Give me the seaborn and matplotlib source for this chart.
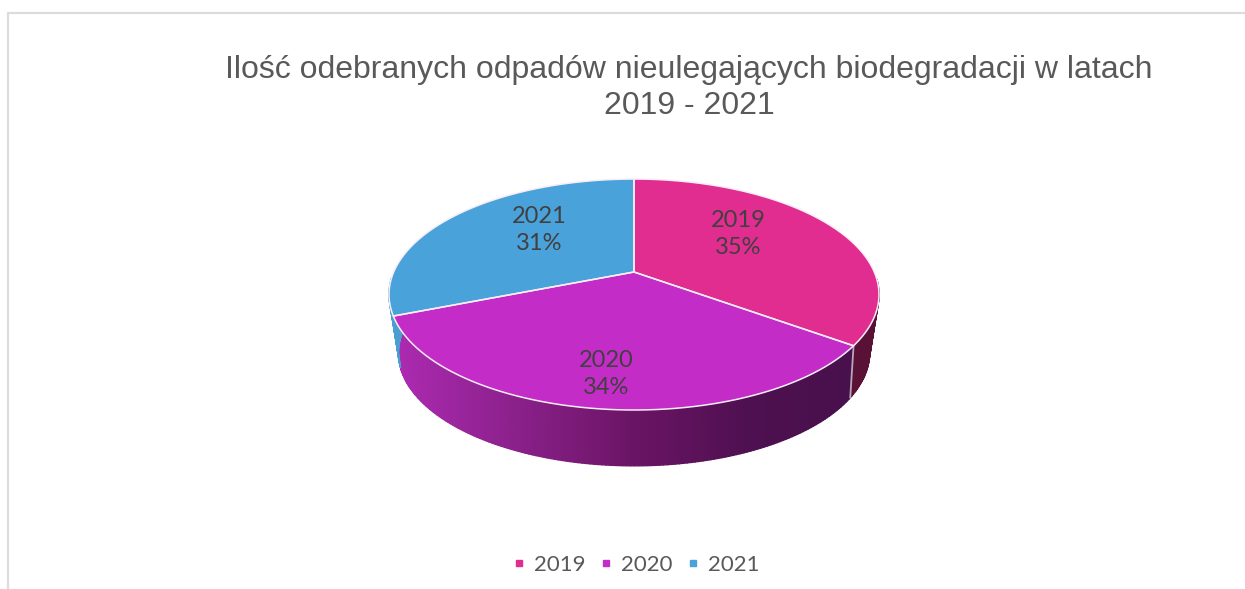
import numpy as np
import matplotlib
matplotlib.use("Agg")
import matplotlib.pyplot as plt
from matplotlib.lines import Line2D
import seaborn as sns

years = ["2019", "2020", "2021"]
values = [35, 34, 31]
title = "Ilość odebranych odpadów nieulegających biodegradacji w latach\n2019 - 2021"

sns.set_theme(style="white")
palette = sns.color_palette(["#e02d8f", "#c42cc8", "#4aa2da"])

# label centres in pixels
label_xy = [(738, 234), (606, 374), (539, 230)]

fig = plt.figure(figsize=(12.45, 5.89), dpi=100)
ax = fig.add_axes([0, 0, 1, 1])
ax.set_xlim(0, 1245)
ax.set_ylim(589, 0)
ax.axis("off")

# frame of the chart (only top and left are visible in the crop)
ax.plot([8, 8, 1245], [589, 13, 13], color="#dcdcdc", lw=1.6, solid_joinstyle="miter")


# perspective mapping of a circle: t is measured clockwise from the top
def ring(t, r=1.0, top=True):
    u, v = r * np.sin(t), r * np.cos(t)
    if top:
        a, b, k, x0, y0 = 240.3, 111.1, 0.195, 634, 272
    else:
        a, b, k, x0, y0 = 228, 105.6, 0.25, 634, 325
    w = 1 + k * v
    return x0 + a * u / w, y0 - b * v / w


shares = np.array(values) / sum(values)
edges = np.concatenate([[0], np.cumsum(shares)]) * 2 * np.pi


def wall_color(i, x):
    if i == 1:
        # purple side gets darker to the right
        rs = np.interp(x, [398, 500, 634, 750, 850], [0xab, 0x8f, 0x6a, 0x4e, 0x48])
        gs = np.interp(x, [398, 500, 634, 750, 850], [0x2a, 0x22, 0x14, 0x10, 0x10])
        bs = np.interp(x, [398, 500, 634, 750, 850], [0xb0, 0x90, 0x64, 0x50, 0x4c])
        return (rs / 255, gs / 255, bs / 255)
    if i == 0:
        return "#5a1136"
    return "#4a9fd0"


# side wall, back part is hidden anyway
for i in range(3):
    ts = np.linspace(edges[i], edges[i + 1], 160)
    for t0, t1 in zip(ts[:-1], ts[1:]):
        if np.cos(t0) > -0.05:
            continue
        x_up, y_up = ring(np.array([t0, t1]))
        x_lo, y_lo = ring(np.array([t1, t0]), top=False)
        c = wall_color(i, x_up.mean())
        ax.fill(np.r_[x_up, x_lo], np.r_[y_up, y_lo], color=c, lw=1.0, zorder=2)

# seam between 2019 and 2020 on the wall
x_a, y_a = ring(edges[1])
x_b, y_b = ring(edges[1], top=False)
ax.plot([x_a, x_b], [y_a, y_b], color="#b9a6bb", lw=1.3, zorder=3)

# top face
for i in range(3):
    ts = np.linspace(edges[i], edges[i + 1], 200)
    x, y = ring(ts)
    ax.fill(np.r_[634, x], np.r_[272, y], color=palette[i], lw=0, zorder=4)
    ax.plot(np.r_[634, x, 634], np.r_[272, y, 272], color="#f7eef7", lw=1.1, zorder=5)

for i in range(3):
    ax.text(label_xy[i][0], label_xy[i][1], f"{years[i]}\n{values[i]}%", ha="center", va="center",
            fontsize=17, family="Lato", color="#404040", linespacing=1.4, zorder=6)

ax.text(689, 88, title, ha="center", va="center", fontsize=23,
        family="Liberation Sans", color="#595959", linespacing=1.3)

handles = [Line2D([], [], marker="s", ls="", color=c, ms=5) for c in palette]
fig.legend(handles, years, ncol=3, frameon=False, loc="center",
           bbox_to_anchor=(636 / 1245, 1 - 565 / 589), prop={"family": "Lato", "size": 16},
           labelcolor="#595959", handlelength=0.6, handletextpad=0.35, columnspacing=0.65)

fig.savefig("out.png", dpi=100)
